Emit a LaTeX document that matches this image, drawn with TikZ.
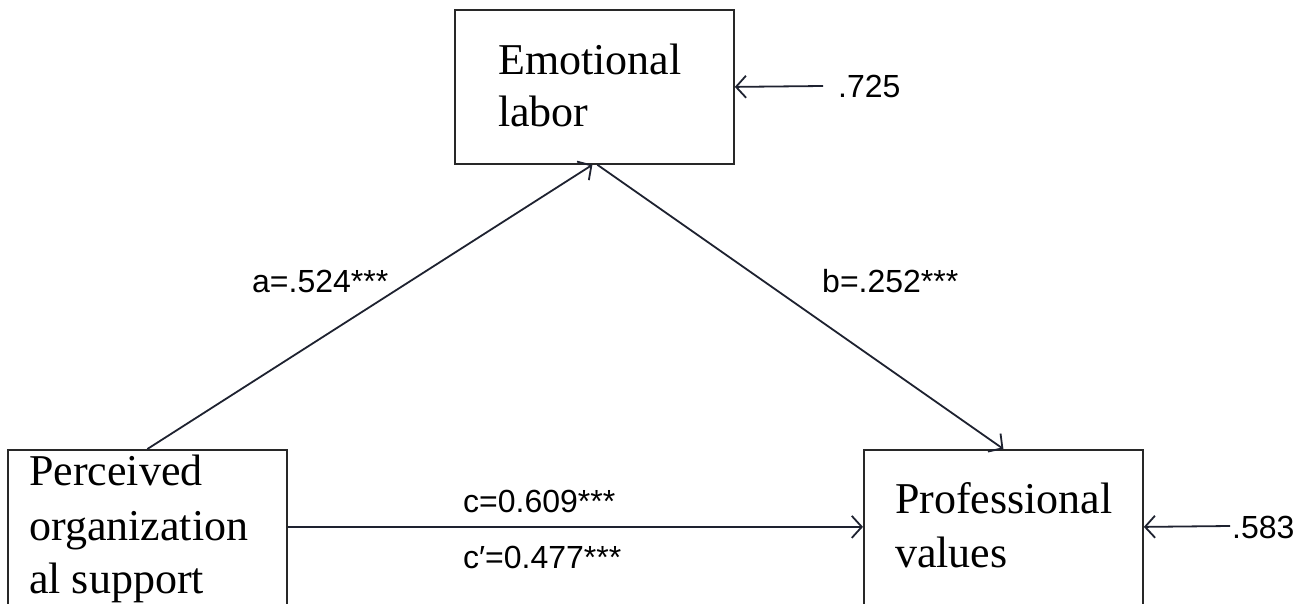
\documentclass[tikz,border=0pt]{standalone}
\usepackage{fontspec}
\setmainfont{Liberation Serif}
\newfontfamily\lblfont{Liberation Sans}
\usetikzlibrary{arrows.meta}
\definecolor{linec}{RGB}{30,34,48}
\definecolor{boxc}{RGB}{40,40,40}
\tikzset{
  box/.style={draw=boxc, line width=1.8pt, rectangle, inner sep=0pt, anchor=north west},
  boxtext/.style={anchor=base west, inner sep=0pt, font=\fontsize{44}{52}\selectfont},
  lbl/.style={anchor=base west, inner sep=0pt, font=\lblfont\fontsize{32}{36}\selectfont},
  arr/.style={draw=linec, line width=1.8pt, -{Straight Barb[length=10pt,width=22pt,line width=1.8pt]}}
}
\begin{document}
\begin{tikzpicture}[x=1pt,y=-1pt]
\useasboundingbox (0,0) rectangle (1312,604);
% boxes
\node[box, minimum width=279pt, minimum height=154pt] (el) at (454,9) {};
\node[box, minimum width=279pt, minimum height=166pt] (pos) at (7,449) {};
\node[box, minimum width=279pt, minimum height=166pt] (pv) at (863,449) {};
% box texts
\node[boxtext] (el1) at (498,75) {Emotional};
\node[boxtext] (el2) at (498,127) {labor};
\node[boxtext] (pos1) at (29,485) {Perceived};
\node[boxtext] (pos2) at (29,540) {organization};
\node[boxtext] (pos3) at (29,593) {al support};
\node[boxtext] (pv1) at (895,513) {Professional};
\node[boxtext] (pv2) at (895,567) {values};
% error terms
\coordinate (e1) at (823,86);
\coordinate (e2) at (1230,526);
% connectors
\draw[arr] (pos.north) -- ([xshift=-2pt]el.south);
\draw[arr] ([xshift=3pt]el.south) -- (pv.north);
\draw[arr] ([yshift=6pt]pos.east) -- ([yshift=6pt]pv.west);
\draw[arr] (e1) -- (el.east);
\draw[arr] (e2) -- ([yshift=6pt]pv.east);
% labels
\node[lbl] (la) at (252,292) {a=.524***};
\node[lbl] (lb) at (822,292) {b=.252***};
\node[lbl] (lc) at (463,512) {c=0.609***};
\node[lbl] (lcp) at (463,568) {c′=0.477***};
\node[lbl] (l725) at (838,98) {.725};
\node[lbl] (l583) at (1232,538) {.583};
\end{tikzpicture}
\end{document}
